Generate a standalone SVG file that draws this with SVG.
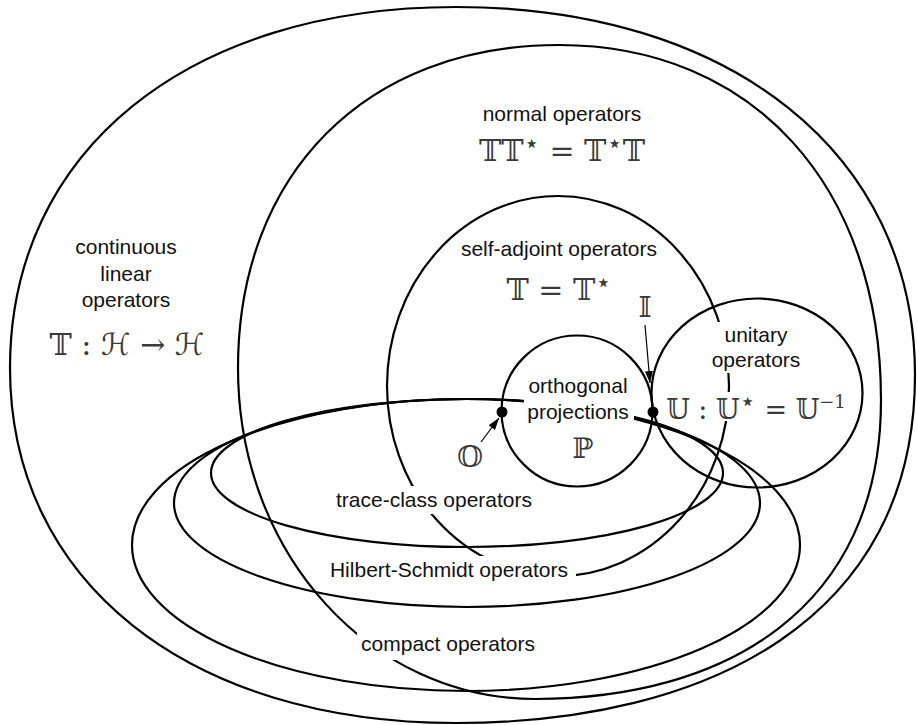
<svg xmlns="http://www.w3.org/2000/svg" width="917" height="725" viewBox="0 0 917 725">
<style>
.r{fill:none;stroke:#000;stroke-width:2.2}
.t{font-family:"Liberation Sans","Helvetica",Arial,sans-serif;font-size:21px;fill:#111;text-anchor:middle}
.m{font-family:"DejaVu Serif","DejaVu Sans",serif;font-size:30px;fill:#3a3a3a;text-anchor:middle}
.s{font-size:26px}
.e{font-size:18px}
.box{fill:#fff;stroke:none}
.c{fill:none;stroke:#000;stroke-width:1.2}
</style>
<defs>
<marker id="ah" viewBox="0 0 12 8" refX="12" refY="4" markerWidth="12" markerHeight="8" markerUnits="userSpaceOnUse" orient="auto">
<path d="M0,0 L12,4 L0,8 Z" fill="#000"/>
</marker>
</defs>
<rect width="917" height="725" fill="#fff"/>
<g id="continuous">
<path class="r" d="M10,368 C10,151 188,7 456,7 C731,7 915,154 915,375 C915,619 708,723 456,723 C188,723 10,581 10,368 Z"/>
<text class="t" x="126" y="254">continuous</text>
<text class="t" x="126" y="281">linear</text>
<text class="t" x="126" y="307">operators</text>
<text class="m" x="127" y="355">𝕋 : ℋ → ℋ</text>
</g>
<g id="normal">
<path class="r" d="M238,368 C238,174 366,45 559,45 C752,45 881,185 881,400 C881,609 725,699 535,699 C372,699 238,555 238,368 Z"/>
<text class="t" x="562" y="121">normal operators</text>
<text class="m" x="562" y="161">𝕋𝕋<tspan class="s" dy="-9">⋆</tspan><tspan dy="9"> = 𝕋</tspan><tspan class="s" dy="-9">⋆</tspan><tspan dy="9">𝕋</tspan></text>
</g>
<g id="selfadjoint">
<ellipse class="r" cx="558" cy="386" rx="171" ry="190"/>
<text class="t" x="559" y="256">self-adjoint operators</text>
<text class="m" x="559" y="300">𝕋 = 𝕋<tspan class="s" dy="-9">⋆</tspan></text>
</g>
<g id="traceclass">
<ellipse class="r" cx="467" cy="473" rx="256" ry="74"/>
<rect class="box" x="333" y="486" width="203" height="28"/>
<text class="t" x="434" y="507">trace-class operators</text>
</g>
<g id="hilbertschmidt">
<ellipse class="r" cx="467" cy="503" rx="293" ry="104"/>
<rect class="box" x="326" y="556" width="250" height="29"/>
<text class="t" x="449" y="577">Hilbert-Schmidt operators</text>
</g>
<g id="compact">
<ellipse class="r" cx="466" cy="545" rx="334" ry="146"/>
<rect class="box" x="357" y="631" width="183" height="29"/>
<text class="t" x="448" y="651">compact operators</text>
</g>
<g id="projections">
<circle class="r" cx="577" cy="411" r="75.5"/>
<rect class="box" x="524" y="374" width="110" height="51"/>
<text class="t" x="578" y="393">orthogonal</text>
<text class="t" x="578" y="419">projections</text>
<text class="m" x="583" y="458" style="font-size:28px">ℙ</text>
</g>
<g id="unitary">
<ellipse class="r" cx="757" cy="393" rx="105.5" ry="94.5"/>
<rect class="box" x="714" y="322" width="86" height="51"/>
<rect class="box" x="662" y="392" width="188" height="29"/>
<text class="t" x="756" y="342">unitary</text>
<text class="t" x="756" y="367">operators</text>
<text class="m" x="756" y="419" style="font-size:27px">𝕌 : 𝕌<tspan class="s" dy="-9">⋆</tspan><tspan dy="9"> = 𝕌</tspan><tspan class="e" dy="-11">−1</tspan></text>
</g>
<g id="zero">
<circle cx="502" cy="412" r="5.5" fill="#000"/>
<text class="m" x="470" y="467">𝕆</text>
</g>
<g id="identity">
<circle cx="653" cy="412" r="5.5" fill="#000"/>
<text class="m" x="645" y="317" style="font-size:28px">𝕀</text>
</g>
<g id="connectors">
<line class="c" x1="481" y1="442" x2="499" y2="418" marker-end="url(#ah)"/>
<line class="c" x1="645" y1="325" x2="650" y2="383" marker-end="url(#ah)"/>
</g>
</svg>
